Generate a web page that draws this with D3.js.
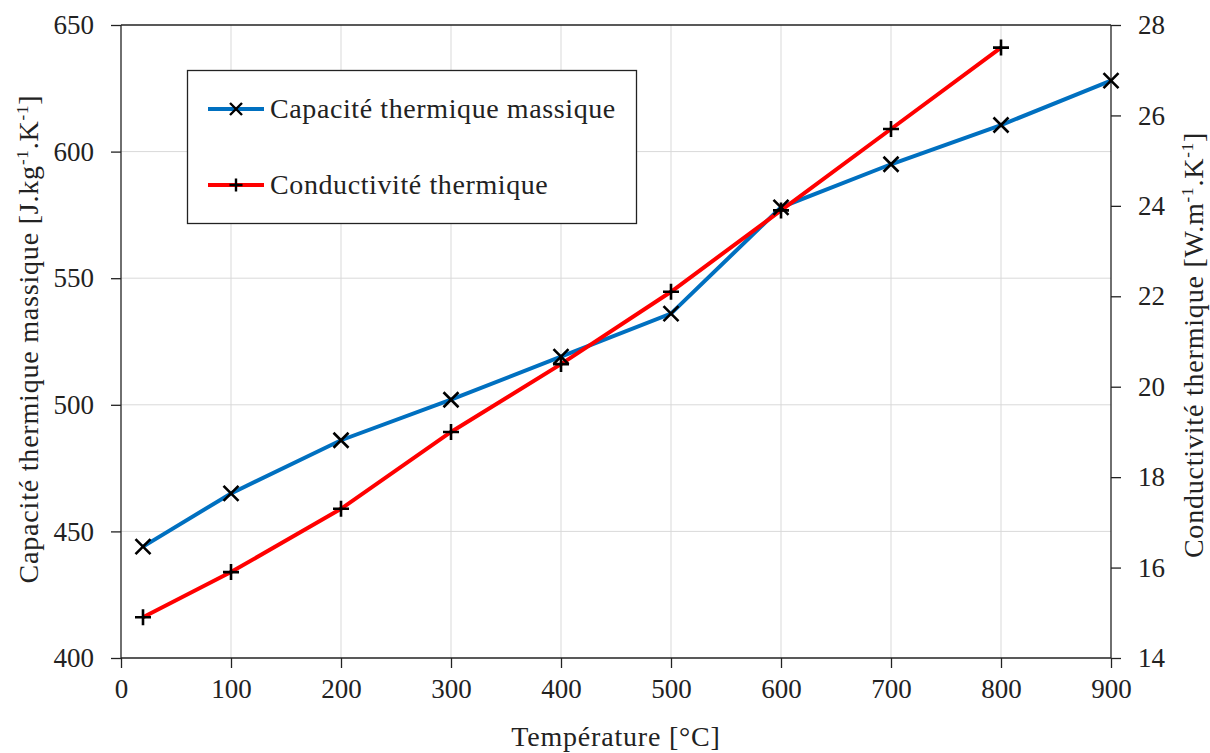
<!DOCTYPE html>
<html><head><meta charset="utf-8">
<script src="https://cdn.jsdelivr.net/npm/d3@7"></script>
<style>body{margin:0;background:#fff}svg{display:block}text{font-family:"Liberation Serif","DejaVu Serif",serif;fill:#222}</style>
</head><body><svg id="c" width="1210" height="753"></svg>
<script>
const temps = [20,100,200,300,400,500,600,700,800,900];
const capacite = [444,465,486,502,519,536,578,595,610.5,628];
const tempsCond = [20,100,200,300,400,500,600,700,800];
const conductivite = [14.9,15.9,17.3,19.0,20.5,22.1,23.9,25.7,27.5];
const xTicks = [0,100,200,300,400,500,600,700,800,900];
const yLeftTicks = [400,450,500,550,600,650];
const yRightTicks = [14,16,18,20,22,24,26,28];
const seriesNames = ["Capacité thermique massique","Conductivité thermique"];

const svg = d3.select("#c");
const L=121,R=1111,T=25,B=658;
const x = d3.scaleLinear().domain([0,900]).range([L,R]);
const yL = d3.scaleLinear().domain([400,650]).range([B,T]);
const yR = d3.scaleLinear().domain([14,28]).range([B,T]);
const fs = 27;

// grid
svg.append("g").selectAll("line").data(xTicks.slice(1,-1)).join("line")
  .attr("x1",d=>x(d)).attr("x2",d=>x(d)).attr("y1",T).attr("y2",B)
  .attr("stroke","#d9d9d9").attr("stroke-width",1);
svg.append("g").selectAll("line").data(yLeftTicks.slice(1,-1)).join("line")
  .attr("x1",L).attr("x2",R).attr("y1",d=>yL(d)).attr("y2",d=>yL(d))
  .attr("stroke","#d9d9d9").attr("stroke-width",1);

// axes
function styleAxis(g){
  g.select(".domain").remove();
  g.selectAll(".tick line").attr("stroke","#222").attr("stroke-width",1.3);
  g.selectAll(".tick text").attr("font-size",fs).attr("fill","#222")
   .style("font-family",'"Liberation Serif",serif');
}
svg.append("g").attr("transform",`translate(0,${B})`)
  .call(d3.axisBottom(x).tickValues(xTicks).tickSize(10).tickPadding(11).tickFormat(d3.format("d")))
  .call(styleAxis);
svg.append("g").attr("transform",`translate(${L},0)`)
  .call(d3.axisLeft(yL).tickValues(yLeftTicks).tickSize(10).tickPadding(17).tickFormat(d3.format("d")))
  .call(styleAxis);
svg.append("g").attr("transform",`translate(${R},0)`)
  .call(d3.axisRight(yR).tickValues(yRightTicks).tickSize(10).tickPadding(17).tickFormat(d3.format("d")))
  .call(styleAxis);
// frame lines
svg.append("line").attr("x1",L).attr("x2",L).attr("y1",T).attr("y2",B).attr("stroke","#222").attr("stroke-width",1.3);
svg.append("line").attr("x1",R).attr("x2",R).attr("y1",T).attr("y2",B).attr("stroke","#222").attr("stroke-width",1.3);
svg.append("line").attr("x1",L).attr("x2",R).attr("y1",B).attr("y2",B).attr("stroke","#222").attr("stroke-width",1.3);
svg.append("line").attr("x1",L).attr("x2",R).attr("y1",T).attr("y2",T).attr("stroke","#222").attr("stroke-width",1.3);

// lines
const capData = temps.map((t,i)=>({t,v:capacite[i]}));
const condData = tempsCond.map((t,i)=>({t,v:conductivite[i]}));
svg.append("path").datum(capData).attr("fill","none").attr("stroke","#0070C0").attr("stroke-width",4)
  .attr("d",d3.line().x(d=>x(d.t)).y(d=>yL(d.v)));
svg.append("path").datum(condData).attr("fill","none").attr("stroke","#FF0000").attr("stroke-width",4)
  .attr("d",d3.line().x(d=>x(d.t)).y(d=>yR(d.v)));

function plusPath(s){return `M${-s},0H${s}M0,${-s}V${s}`;}
function xPath(s){return `M${-s},${-s}L${s},${s}M${-s},${s}L${s},${-s}`;}
svg.append("g").selectAll("path").data(capData).join("path")
  .attr("transform",d=>`translate(${x(d.t)},${yL(d.v)})`).attr("d",xPath(7.5))
  .attr("stroke","#000").attr("stroke-width",2.6).attr("fill","none");
svg.append("g").selectAll("path").data(condData).join("path")
  .attr("transform",d=>`translate(${x(d.t)},${yR(d.v)})`).attr("d",plusPath(8))
  .attr("stroke","#000").attr("stroke-width",2.6).attr("fill","none");

// legend
const lg = svg.append("g");
lg.append("rect").attr("x",187.5).attr("y",70.5).attr("width",449).attr("height",153)
  .attr("fill","#fff").attr("stroke","#222").attr("stroke-width",1.3);
const legY=[109,185], legC=["#0070C0","#FF0000"];
legY.forEach((yy,i)=>{
  lg.append("line").attr("x1",208).attr("x2",264).attr("y1",yy).attr("y2",yy).attr("stroke",legC[i]).attr("stroke-width",4);
  lg.append("path").attr("transform",`translate(236,${yy})`).attr("d",i?plusPath(6.5):xPath(6))
    .attr("stroke","#000").attr("stroke-width",2.4).attr("fill","none");
  lg.append("text").attr("x",270).attr("y",yy+9).attr("font-size",28).attr("letter-spacing",0.6).text(seriesNames[i]);
});

// axis titles
svg.append("text").attr("x",616).attr("y",746).attr("text-anchor","middle").attr("font-size",28).attr("letter-spacing",0.8).text("Température [°C]");
function title(sel,main,unit){
  sel.append("tspan").text(main+" ["+unit);
  sel.append("tspan").attr("dy",-10).attr("font-size",17).text("-1");
  sel.append("tspan").attr("dy",10).text(".K");
  sel.append("tspan").attr("dy",-10).attr("font-size",17).text("-1");
  sel.append("tspan").attr("dy",10).text("]");
}
const lt = svg.append("text").attr("transform","translate(38,339) rotate(-90)").attr("text-anchor","middle").attr("font-size",28).attr("letter-spacing",0.8);
title(lt,"Capacité thermique massique","J.kg");
const rt = svg.append("text").attr("transform","translate(1203,345) rotate(-90)").attr("text-anchor","middle").attr("font-size",28).attr("letter-spacing",0.8);
title(rt,"Conductivité thermique","W.m");
</script></body></html>
